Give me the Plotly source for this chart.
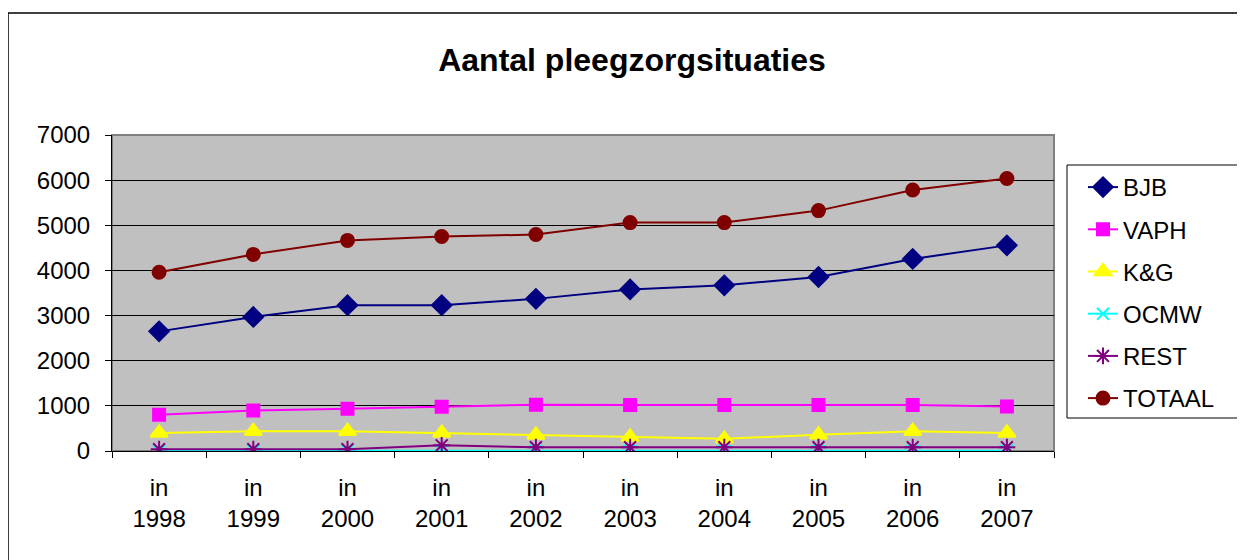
import plotly.graph_objects as go

categories = ["in<br>1998", "in<br>1999", "in<br>2000", "in<br>2001", "in<br>2002",
              "in<br>2003", "in<br>2004", "in<br>2005", "in<br>2006", "in<br>2007"]

bjb = [2650, 2970, 3230, 3230, 3370, 3580, 3670, 3855, 4255, 4555]
vaph = [805, 895, 935, 980, 1025, 1020, 1020, 1020, 1020, 985]
kg = [400, 440, 440, 400, 355, 310, 270, 360, 440, 400]
ocmw = [5, 5, 5, 5, 5, 5, 5, 5, 5, 5]
rest = [40, 40, 40, 125, 85, 85, 85, 85, 85, 85]
totaal = [3960, 4355, 4665, 4750, 4795, 5060, 5060, 5325, 5780, 6035]

series = [
    ("BJB", bjb, "#000080", "diamond", 15),
    ("VAPH", vaph, "#FF00FF", "square", 12),
    ("K&G", kg, "#FFFF00", "triangle-up", 15),
    ("OCMW", ocmw, "#00FFFF", "x-thin-open", 12),
    ("REST", rest, "#800080", "asterisk-open", 14),
    ("TOTAAL", totaal, "#800000", "circle", 13),
]

fig = go.Figure()
for name, vals, color, sym, size in series:
    fig.add_trace(go.Scatter(
        x=categories, y=vals, name=name, mode="lines+markers",
        legendgroup=name,
        line=dict(color=color, width=2),
        marker=dict(symbol=sym, size=size, color=color,
                    line=dict(color=color, width=2)),
    ))

# page offset of the plot div (body margin)
OFF = 8
W, H = 1245 - OFF, 560 - OFF
# desired plot area in page pixels: x 112..1054, y 135..451
L = 112 - OFF
T = 135 - OFF
R = W - (1054 - OFF)
B = H - (451 - OFF)
pw, ph = W - L - R, H - T - B

def px_x(px):
    return (px - OFF - L) / pw

def px_y(py):
    return (H - B - (py - OFF)) / ph

font_family = "Liberation Sans, Arial, sans-serif"

fig.update_layout(
    width=W, height=H,
    margin=dict(l=L, r=R, t=T, b=B),
    paper_bgcolor="white",
    plot_bgcolor="#C0C0C0",
    font=dict(family=font_family, size=24, color="black"),
    title=dict(text="Aantal pleegzorgsituaties", x=(632 - OFF) / W, xanchor="center",
               y=1 - (60 - OFF) / H, yanchor="middle",
               font=dict(size=32, weight="bold", family=font_family)),
    showlegend=True,
    legend=dict(x=px_x(1083), y=px_y(165), xanchor="left", yanchor="top",
                borderwidth=0, bgcolor="rgba(255,255,255,0)",
                traceorder="grouped", tracegroupgap=8,
                font=dict(size=24, family=font_family)),
    xaxis=dict(range=[-0.5, 9.5], showline=True, linecolor="black", linewidth=1,
               ticks="outside", tickson="boundaries", ticklen=6,
               tickcolor="black", showgrid=False, mirror=False,
               ticklabelstandoff=15,
               tickfont=dict(size=24)),
    yaxis=dict(range=[0, 7000], dtick=1000, showline=True, linecolor="black",
               linewidth=1, ticks="outside", ticklen=6, tickcolor="black",
               showgrid=True, gridcolor="black", gridwidth=1,
               zeroline=False, ticklabelstandoff=10,
               tickfont=dict(size=24)),
    shapes=[
        # outer chart border
        dict(type="rect", xref="paper", yref="paper",
             x0=px_x(8), x1=px_x(1270), y0=px_y(590), y1=px_y(13),
             line=dict(color="black", width=1.5), fillcolor="rgba(0,0,0,0)",
             layer="below"),
        # plot area grey border
        dict(type="rect", xref="paper", yref="paper", x0=0, x1=1, y0=0, y1=1,
             line=dict(color="#808080", width=2), fillcolor="rgba(0,0,0,0)",
             layer="below"),
        # legend frame
        dict(type="rect", xref="paper", yref="paper",
             x0=px_x(1067), x1=px_x(1260), y0=px_y(418), y1=px_y(165),
             line=dict(color="black", width=1), fillcolor="white",
             layer="below"),
    ],
)

fig.write_html("out.html")
